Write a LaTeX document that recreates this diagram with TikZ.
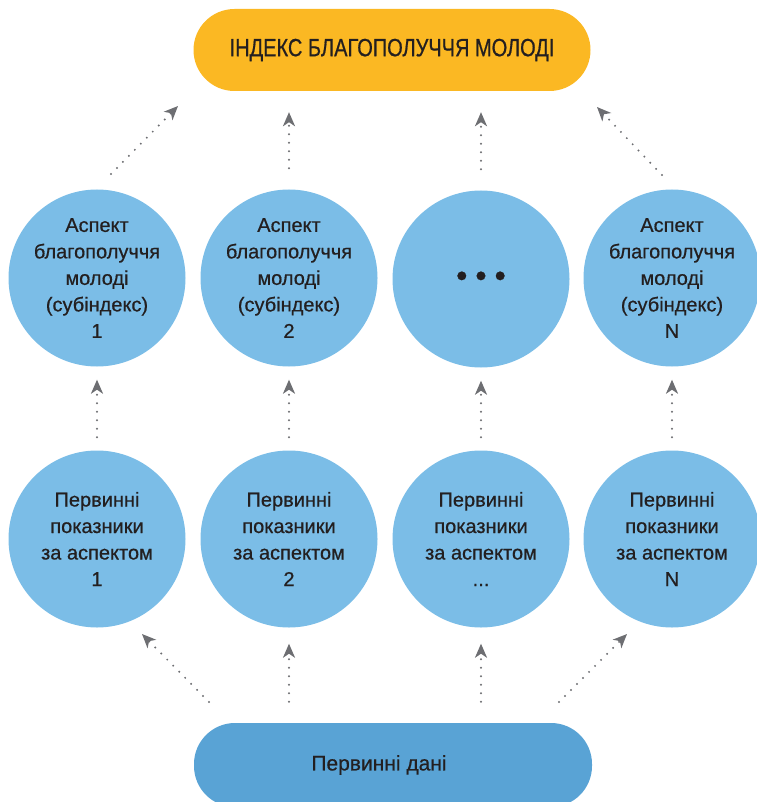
\documentclass[tikz,border=0pt]{standalone}
\usepackage{fontspec}
\setmainfont[FakeBold=0.6]{Liberation Sans}
\newfontfamily\condfont[FakeStretch=0.8,FakeBold=0.6]{Liberation Sans}
\usetikzlibrary{arrows.meta,calc}
\definecolor{ylw}{HTML}{FBB823}
\definecolor{lblue}{HTML}{7BBDE7}
\definecolor{dblue}{HTML}{59A3D5}
\definecolor{txt}{HTML}{231F20}
\definecolor{agray}{HTML}{6D6E72}
\begin{document}
\begin{tikzpicture}[x=1pt,y=-1pt,
  pill/.style={rectangle, rounded corners=41pt, minimum height=82pt, inner sep=0pt, text=txt},
  circ/.style={circle, fill=lblue, minimum size=177pt, inner sep=0pt, align=center, text=txt,
    font=\fontsize{20}{26.5}\selectfont},
  arr/.style={draw=agray, line width=2.2pt, line cap=round, dash pattern=on 0pt off 8.5pt,
    -{Stealth[length=14pt,width=12pt,inset=4pt]}},
  ]
\useasboundingbox (0,0) rectangle (756,802);
% top and bottom
\node[pill, fill=ylw, minimum width=397pt, font=\condfont\fontsize{25}{28}\selectfont] (top) at (392,50) {ІНДЕКС БЛАГОПОЛУЧЧЯ МОЛОДІ};
\node[pill, fill=dblue, minimum width=398pt, minimum height=84pt, font=\fontsize{21}{24}\selectfont] (bot) at (393,765) {\raisebox{-3pt}{Первинні дані}\kern28pt};
% row 1
\node[circ] (a1) at (97,278) {Аспект\\благополуччя\\молоді\\(субіндекс)\\1};
\node[circ] (a2) at (289,278) {Аспект\\благополуччя\\молоді\\(субіндекс)\\2};
\node[circ, font=\fontsize{32}{34}\selectfont] (a3) at (481,279) {•\hspace{8pt}•\hspace{8pt}•};
\node[circ] (a4) at (672,278) {Аспект\\благополуччя\\молоді\\(субіндекс)\\N};
% row 2
\node[circ] (p1) at (97,539) {Первинні\\показники\\за аспектом\\1};
\node[circ] (p2) at (289,539) {Первинні\\показники\\за аспектом\\2};
\node[circ] (p3) at (481,539) {Первинні\\показники\\за аспектом\\...};
\node[circ] (p4) at (672,539) {Первинні\\показники\\за аспектом\\N};
% free ends of diagonal connectors
\coordinate (d1s) at (111,174); \coordinate (d1e) at (178,106);
\coordinate (d4s) at (662,175); \coordinate (d4e) at (597,107);
\coordinate (b1s) at (209,702); \coordinate (b1e) at (142,634);
\coordinate (b4s) at (559,702); \coordinate (b4e) at (627,634);
% connectors row2 -> row1
\foreach \i in {1,2,3,4}{
  \draw[arr, shorten <=13pt, shorten >=13pt] (p\i.north) -- (a\i.south);
}
% row1 -> top
\draw[arr, shorten <=21pt, shorten >=21pt] (a2.north) -- (a2.north |- top.south);
\draw[arr, shorten <=21pt, shorten >=21pt] (a3.north) -- (a3.north |- top.south);
\draw[arr] (d1s) -- (d1e);
\draw[arr] (d4s) -- (d4e);
% bottom -> row2
\draw[arr, shorten <=21pt, shorten >=16pt] (bot.north -| p2.south) -- (p2.south);
\draw[arr, shorten <=21pt, shorten >=16pt] (bot.north -| p3.south) -- (p3.south);
\draw[arr] (b1s) -- (b1e);
\draw[arr] (b4s) -- (b4e);
\end{tikzpicture}
\end{document}
